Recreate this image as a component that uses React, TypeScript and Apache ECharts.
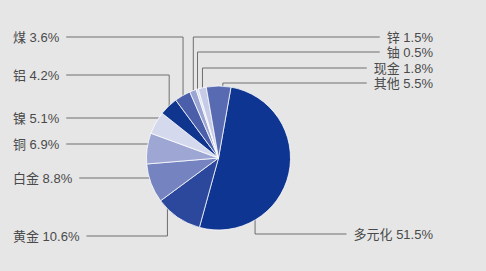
import React, { useEffect, useRef } from 'react';
import * as echarts from 'echarts';

// ---- data ----
const categories = ['多元化', '黄金', '白金', '铜', '镍', '铝', '煤', '锌', '铀', '现金', '其他'];
const shares = [51.5, 10.6, 8.8, 6.9, 5.1, 4.2, 3.6, 1.5, 0.5, 1.8, 5.5];
const sliceColors = ['#0e3591', '#2b489d', '#7583c0', '#9ea7d3', '#d5d9ee', '#10358f', '#4b5eaa', '#9aa5d4', '#dcdff0', '#c6cce7', '#586bb2'];

// ---- layout (positions only) ----
const CX = 218.5;
const CY = 158;
const R = 72;
const START_DEG = 10; // clockwise from 12 o'clock
const LEFT_X = 13;
const RIGHT_X = 433;
const GAP = 7;
type LabelPos = { side: 'left' | 'right'; y: number; mode?: 'h'; angle?: number };
const labelPos: LabelPos[] = [
  { side: 'right', y: 234, angle: 149 },
  { side: 'left', y: 236, angle: 226 },
  { side: 'left', y: 178, mode: 'h' },
  { side: 'left', y: 144, mode: 'h' },
  { side: 'left', y: 118, mode: 'h' },
  { side: 'left', y: 75 },
  { side: 'left', y: 37 },
  { side: 'right', y: 37 },
  { side: 'right', y: 52 },
  { side: 'right', y: 68 },
  { side: 'right', y: 83, angle: 3.5 },
];

function midAngles(): number[] {
  const total = shares.reduce((a, b) => a + b, 0);
  let acc = 0;
  return shares.map((v) => {
    const mid = START_DEG + ((acc + v / 2) / total) * 360;
    acc += v;
    return mid;
  });
}

export default function App() {
  const ref = useRef<HTMLDivElement>(null);
  useEffect(() => {
    document.body.style.margin = '0';
    document.body.style.background = '#e6e6e6';
    if (!ref.current) return;
    const chart = echarts.init(ref.current, undefined, { renderer: 'svg' });
    const mids = midAngles();
    chart.setOption({
      animation: false,
      backgroundColor: '#e6e6e6',
      series: [
        {
          type: 'pie',
          center: [CX, CY],
          radius: R,
          startAngle: 90 - START_DEG,
          clockwise: true,
          avoidLabelOverlap: false,
          silent: true,
          data: categories.map((name, i) => ({
            name,
            value: shares[i],
            itemStyle: { color: sliceColors[i] },
          })),
          itemStyle: { borderColor: 'rgba(255,255,255,0.75)', borderWidth: 1 },
          label: {
            show: true,
            position: 'outside',
            formatter: '{b} {c}%',
            fontSize: 13,
            color: '#4a4a4a',
            fontFamily: '"Liberation Sans", "Noto Sans CJK SC", sans-serif',
          },
          labelLine: {
            show: true,
            lineStyle: { color: '#6e6e6e', width: 1 },
          },
          labelLayout: (params: any) => {
            const i = params.dataIndex;
            const p = labelPos[i];
            const w = params.labelRect.width;
            const ly = p.y;
            let pts: number[][];
            const textEdge = p.side === 'left' ? LEFT_X + w + GAP : RIGHT_X - w - GAP;
            if (p.mode === 'h') {
              const dy = ly - CY;
              const dx = Math.sqrt(Math.max(R * R - dy * dy, 0));
              const ex = p.side === 'left' ? CX - dx + 1 : CX + dx - 1;
              pts = [[ex, ly], [textEdge, ly]];
            } else {
              const a = ((p.angle != null ? p.angle : mids[i]) * Math.PI) / 180;
              const ax = CX + (R - 1) * Math.sin(a);
              const ay = CY - (R - 1) * Math.cos(a);
              pts = [[ax, ay], [ax, ly], [textEdge, ly]];
            }
            return {
              x: p.side === 'left' ? LEFT_X : RIGHT_X,
              y: ly,
              align: p.side === 'left' ? 'left' : 'right',
              verticalAlign: 'middle',
              labelLinePoints: pts,
            };
          },
        },
      ],
    });
    return () => chart.dispose();
  }, []);
  return <div ref={ref} style={{ width: 486, height: 271, background: '#e6e6e6' }} />;
}
